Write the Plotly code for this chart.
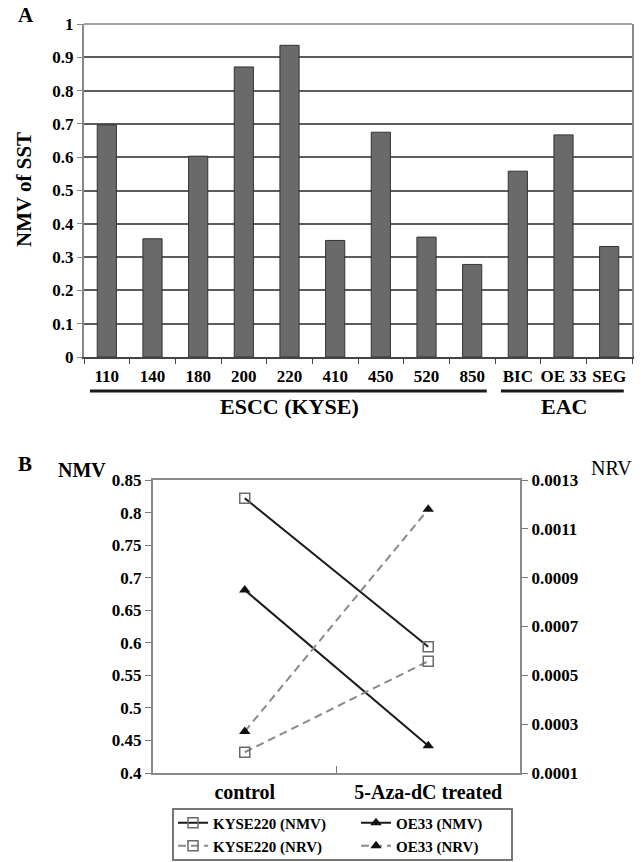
import plotly.graph_objects as go

# ---------------- data ----------------
escc_lines = ["110", "140", "180", "200", "220", "410", "450", "520", "850"]
eac_lines = ["BIC", "OE 33", "SEG"]
cell_lines = escc_lines + eac_lines
nmv_sst = [0.697, 0.355, 0.603, 0.871, 0.936, 0.350, 0.675, 0.360, 0.278, 0.558, 0.667, 0.332]
group_names = ["ESCC (KYSE)", "EAC"]

conditions = ["control", "5-Aza-dC treated"]
kyse220_nmv = [0.822, 0.594]
oe33_nmv = [0.681, 0.442]
kyse220_nrv = [0.000185, 0.000558]
oe33_nrv = [0.00027, 0.00118]

# ---------------- styling ----------------
W, H = 642, 862
FONT = "Liberation Serif, Times New Roman, serif"
def px_x(p):
    return p / W
def px_y(p):
    return (H - p) / H

tickfont = dict(family=FONT, size=17, color="black", weight="bold")

fig = go.Figure()

# Panel A bars
fig.add_trace(go.Bar(
    x=cell_lines, y=nmv_sst, xaxis="x", yaxis="y",
    marker=dict(color="#6a6a6a", line=dict(color="#333333", width=1)),
    showlegend=False, hoverinfo="x+y"))

# Panel B lines
fig.add_trace(go.Scatter(
    x=conditions, y=kyse220_nmv, xaxis="x2", yaxis="y2", mode="lines+markers",
    name="KYSE220 (NMV)", legend="legend",
    line=dict(color="#1a1a1a", width=2),
    marker=dict(symbol="square-open", size=10, color="#6a6a6a", line=dict(width=1.5))))
fig.add_trace(go.Scatter(
    x=conditions, y=oe33_nmv, xaxis="x2", yaxis="y2", mode="lines+markers",
    name="OE33 (NMV)", legend="legend",
    line=dict(color="#1a1a1a", width=2),
    marker=dict(symbol="triangle-up", size=10, color="#111111")))
fig.add_trace(go.Scatter(
    x=conditions, y=kyse220_nrv, xaxis="x2", yaxis="y3", mode="lines+markers",
    name="KYSE220 (NRV)", legend="legend2",
    line=dict(color="#8a8a8a", width=2, dash="8px,5px"),
    marker=dict(symbol="square-open", size=10, color="#6a6a6a", line=dict(width=1.5))))
fig.add_trace(go.Scatter(
    x=conditions, y=oe33_nrv, xaxis="x2", yaxis="y3", mode="lines+markers",
    name="OE33 (NRV)", legend="legend2",
    line=dict(color="#8a8a8a", width=2, dash="8px,5px"),
    marker=dict(symbol="triangle-up", size=10, color="#111111")))

# group underline shapes & labels derived from category indices
shapes = []
annotations = []
groups = [(group_names[0], 0, len(escc_lines) - 1),
          (group_names[1], len(escc_lines), len(cell_lines) - 1)]
for name, i0, i1 in groups:
    shapes.append(dict(type="line", xref="x", yref="paper",
                       x0=i0 - 0.37, x1=i1 + 0.32, y0=px_y(391), y1=px_y(391),
                       line=dict(color="#1a1a1a", width=3)))
    annotations.append(dict(text=name, xref="x", yref="paper", x=(i0 + i1) / 2,
                            y=px_y(407), showarrow=False, xanchor="center", yanchor="middle",
                            font=dict(family=FONT, size=22, color="black", weight="bold")))

# top border of panel A (light gray)
shapes.append(dict(type="line", xref="x domain", yref="y domain", x0=0, x1=1, y0=1, y1=1,
                   line=dict(color="#a0a0a0", width=2)))
# legend frame
shapes.append(dict(type="rect", xref="paper", yref="paper",
                   x0=px_x(173), x1=px_x(512), y0=px_y(860), y1=px_y(809),
                   line=dict(color="#777777", width=2)))

def label(text, x, y, size, bold=True, angle=0):
    return dict(text=text, x=px_x(x), y=px_y(y), xref="paper", yref="paper",
                showarrow=False, xanchor="center", yanchor="middle", textangle=angle,
                font=dict(family=FONT, size=size, color="black",
                          weight="bold" if bold else "normal"))

annotations += [
    label("A", 26, 15, 21),
    label("NMV of SST", 24, 190, 21, angle=-90),
    label("B", 25, 464, 21),
    label("NMV", 82, 470, 20),
    label("NRV", 611, 468, 20, bold=False),
]

fig.update_layout(
    width=W, height=H,
    margin=dict(l=0, r=0, t=0, b=0, autoexpand=False),
    paper_bgcolor="white", plot_bgcolor="white",
    bargap=0.58,
    xaxis=dict(domain=[px_x(84), px_x(632)], anchor="y", type="category", automargin=False,
               tickson="boundaries", ticks="outside", ticklen=5, tickcolor="#444",
               showline=True, linecolor="#444", linewidth=1.5, showgrid=False,
               tickangle=0, tickfont=tickfont, ticklabelstandoff=3),
    yaxis=dict(domain=[px_y(357), px_y(24)], anchor="x", range=[0, 1], dtick=0.1,
               automargin=False,
               showgrid=True, gridcolor="#5c5c5c", gridwidth=1.5, zeroline=False,
               showline=True, linecolor="#8a8a8a", linewidth=2, mirror=True,
               ticks="outside", ticklen=5, tickcolor="#8a8a8a", tickfont=tickfont),
    xaxis2=dict(domain=[px_x(153), px_x(520)], anchor="y2", type="category", automargin=False,
                range=[-0.5, 1.5], tickson="boundaries", ticks="inside", ticklen=7,
                tickcolor="#777", showline=True, linecolor="#8a8a8a", linewidth=2,
                mirror=True, showgrid=False, tickangle=0,
                tickfont=dict(family=FONT, size=20, color="black", weight="bold")),
    yaxis2=dict(domain=[px_y(773), px_y(480)], anchor="x2", range=[0.4, 0.85], dtick=0.05,
                tick0=0.4, automargin=False, showgrid=False, zeroline=False, showline=True,
                linecolor="#8a8a8a", linewidth=2, ticks="outside", ticklen=6,
                tickcolor="#777", tickfont=tickfont),
    yaxis3=dict(overlaying="y2", anchor="x2", side="right", automargin=False,
                range=[0.0001, 0.0013], dtick=0.0002, tick0=0.0001, tickformat=".4f",
                showgrid=False, zeroline=False, showline=True, linecolor="#8a8a8a",
                linewidth=2, ticks="outside", ticklen=6, tickcolor="#777",
                tickfont=tickfont),
    legend=dict(orientation="h", x=px_x(173), y=px_y(823), xanchor="left", yanchor="middle",
                entrywidth=138, bgcolor="rgba(0,0,0,0)", borderwidth=0,
                font=dict(family=FONT, size=15, color="black", weight="bold")),
    legend2=dict(orientation="h", x=px_x(173), y=px_y(846), xanchor="left", yanchor="middle",
                 entrywidth=138, bgcolor="rgba(0,0,0,0)", borderwidth=0,
                 font=dict(family=FONT, size=15, color="black", weight="bold")),
    shapes=shapes,
    annotations=annotations,
)

fig.write_html("out.html", config={"displayModeBar": False},
               post_script="document.body.style.margin='0px';document.body.style.overflow='hidden';")
